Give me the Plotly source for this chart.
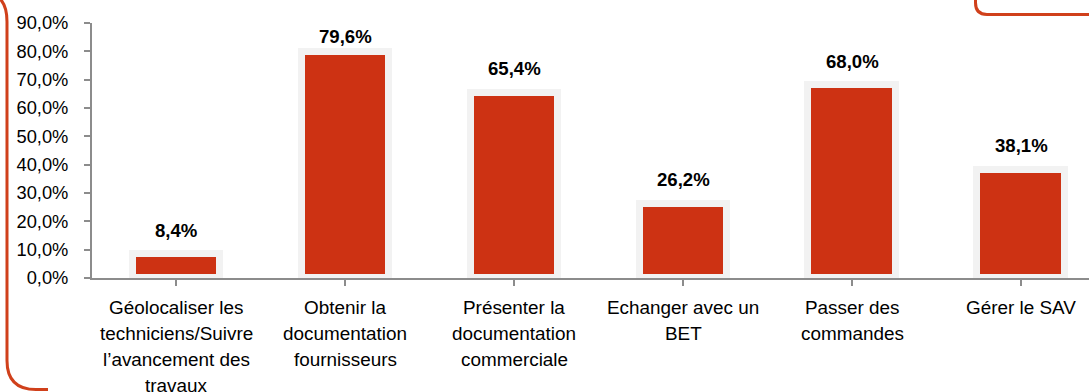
import plotly.graph_objects as go

# Survey results: share of respondents per use case
categories = [
    "Géolocaliser les<br>techniciens/Suivre<br>l’avancement des<br>travaux",
    "Obtenir la<br>documentation<br>fournisseurs",
    "Présenter la<br>documentation<br>commerciale",
    "Echanger avec un<br>BET",
    "Passer des<br>commandes",
    "Gérer le SAV",
]
values = [8.4, 79.6, 65.4, 26.2, 68.0, 38.1]
y_ticks = [0, 10, 20, 30, 40, 50, 60, 70, 80, 90]

BAR_RED = "#cd3213"
FRAME_RED = "#d0401b"
AXIS_GREY = "#8c8c8c"
FONT = "Liberation Sans, Arial, sans-serif"

W, H = 1089, 392
L, T = 92, 23.3
PLOT_BOTTOM = 277.7
PW, PH = W - L, PLOT_BOTTOM - T

x_idx = list(range(len(categories)))

fig = go.Figure(
    go.Bar(
        x=x_idx,
        y=values,
        width=0.52,
        marker=dict(color=BAR_RED, line=dict(color="#f2f2f2", width=7)),
        hoverinfo="skip",
    )
)


def fmt(v):
    return f"{v:.1f}".replace(".", ",") + "%"


annotations = []
# value labels above the bars, kept inside the plotting area near the top
for i, v in zip(x_idx, values):
    annotations.append(dict(
        x=i, y=min(v + 8.5, 85.3), xref="x", yref="y",
        text=f"<b>{fmt(v)}</b>", showarrow=False,
        xanchor="center", yanchor="middle",
        font=dict(family=FONT, size=18.6, color="#000000"),
    ))

# category labels, one annotation per line for tight line spacing
LINE_GAP = 25.8
for i, cat in zip(x_idx, categories):
    for k, line in enumerate(cat.split("<br>")):
        annotations.append(dict(
            x=i, y=0, xref="x", yref="paper",
            text=line, showarrow=False,
            xanchor="center", yanchor="middle",
            yshift=-29.7 - k * LINE_GAP,
            font=dict(family=FONT, size=18.9, color="#000000"),
        ))


def px(x, y):
    return f"{(x - L) / PW:.5f},{(PLOT_BOTTOM - y) / PH:.5f}"


shapes = [
    # left frame border
    dict(type="path", xref="paper", yref="paper",
         path=(f"M{px(-12, -6)} Q{px(7, -4)} {px(7, 22)} L{px(7, 360)} "
               f"Q{px(7, 389)} {px(36, 389)} L{px(48, 389)}"),
         line=dict(color=FRAME_RED, width=3), layer="below"),
    # top-right box corner
    dict(type="path", xref="paper", yref="paper",
         path=(f"M{px(975.5, -4)} L{px(975.5, 3)} "
               f"Q{px(975.5, 14.7)} {px(987, 14.7)} L{px(1095, 14.7)}"),
         line=dict(color=FRAME_RED, width=3), layer="below"),
]

fig.update_layout(
    width=W, height=H,
    margin=dict(l=L, r=0, t=T, b=H - PLOT_BOTTOM, pad=0),
    paper_bgcolor="white", plot_bgcolor="white",
    separators=",.",
    showlegend=False,
    bargap=0,
    annotations=annotations,
    shapes=shapes,
    xaxis=dict(
        range=[-0.5, 5.4], tickvals=x_idx, ticktext=[""] * len(x_idx),
        showgrid=False, zeroline=False,
        showline=True, linecolor=AXIS_GREY, linewidth=2,
        ticks="outside", tickson="boundaries", ticklen=6,
        tickcolor=AXIS_GREY, tickwidth=2,
        fixedrange=True,
    ),
    yaxis=dict(
        range=[0, 90], tickvals=y_ticks,
        ticktext=[fmt(v) for v in y_ticks],
        showgrid=False, zeroline=False,
        showline=True, linecolor=AXIS_GREY, linewidth=2,
        ticks="outside", ticklen=6, tickcolor=AXIS_GREY, tickwidth=2,
        tickfont=dict(family=FONT, size=18.3, color="#000000"),
        ticklabelstandoff=12,
        fixedrange=True,
    ),
)

fig.write_html("out.html", config={"displayModeBar": False})
